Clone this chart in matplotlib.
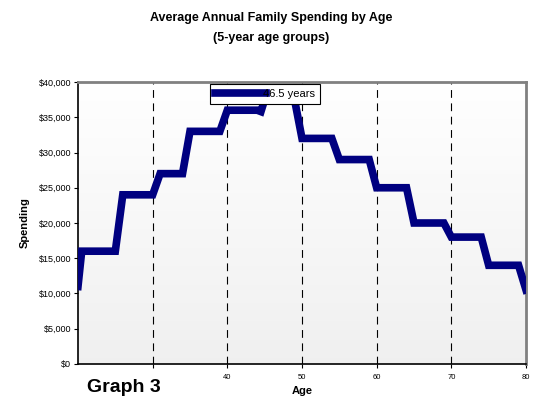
import numpy as np
import matplotlib
matplotlib.use("Agg")
import matplotlib.pyplot as plt
from matplotlib.ticker import FuncFormatter

plt.rcParams['font.family'] = ['Liberation Sans', 'DejaVu Sans']

# step-like spending curve (age, dollars)
ages = [20, 20.5, 25, 26, 30, 31, 34, 35, 39, 40, 44, 44.5, 45, 49, 50,
        54, 55, 59, 60, 64, 65, 69, 70, 74, 75, 79, 80]
spending = [11000, 16000, 16000, 24000, 24000, 27000, 27000, 33000, 33000,
            36000, 36000, 35800, 37500, 37500, 32000, 32000, 29000, 29000,
            25000, 25000, 20000, 20000, 18000, 18000, 14000, 14000, 10500]
grid_ages = [30, 40, 50, 60, 70]
x_ticks = [30, 40, 50, 60, 70, 80]
x_labels = ['', '40', '50', '60', '70', '80']
series_label = "46.5 years"

fig = plt.figure(figsize=(5.33, 4.07), dpi=100)
ax = fig.add_axes([0.1463, 0.1057, 0.8406, 0.6928])

# background gradient: white at top -> light gray at bottom
grad = np.linspace(0.94, 1.0, 256).reshape(-1, 1)
ax.imshow(np.dstack([grad, grad, grad]), extent=[20, 80, 0, 40000],
          origin='lower', aspect='auto', zorder=0)

for a in grid_ages:
    ax.axvline(a, color='black', lw=0.8, ls=(0, (7, 5)), zorder=1)

ax.plot(ages, spending, color='#000080', lw=5.5, solid_joinstyle='miter',
        label=series_label, zorder=3)

ax.set_xlim(20, 80)
ax.set_ylim(0, 40000)
ax.set_yticks(np.arange(0, 40001, 5000))
ax.yaxis.set_major_formatter(FuncFormatter(lambda v, p: "${:,.0f}".format(v)))
ax.set_xticks(x_ticks)
ax.set_xticklabels(x_labels)
ax.tick_params(axis='y', labelsize=6.5, length=3, width=0.8, pad=2, colors='black')
ax.tick_params(axis='x', labelsize=5.5, length=3, width=0.8, pad=4)

for s in ['left', 'bottom']:
    ax.spines[s].set_color('black')
    ax.spines[s].set_linewidth(1.2)
for s in ['top', 'right']:
    ax.spines[s].set_color('#808080')
    ax.spines[s].set_linewidth(2)

ax.set_ylabel("Spending", fontsize=8, fontweight='bold', labelpad=6)
ax.set_xlabel("Age", fontsize=8, fontweight='bold', labelpad=4)

leg = ax.legend(loc='upper left', bbox_to_anchor=(0.290, 1.0), fontsize=8,
                handlelength=4.6, handletextpad=-0.2, borderpad=0.45,
                borderaxespad=0.15, fancybox=False, framealpha=1,
                edgecolor='black')
leg.get_frame().set_linewidth(0.8)
leg.set_zorder(5)

fig.text(0.508, 0.957, "Average Annual Family Spending by Age", ha='center',
         va='center', fontsize=9, fontweight='bold')
fig.text(0.508, 0.906, "(5-year age groups)", ha='center', va='center',
         fontsize=9, fontweight='bold')
fig.text(0.163, 0.048, "Graph 3", ha='left', va='center', fontsize=14,
         fontweight='bold')

fig.savefig("out.png", dpi=100)
